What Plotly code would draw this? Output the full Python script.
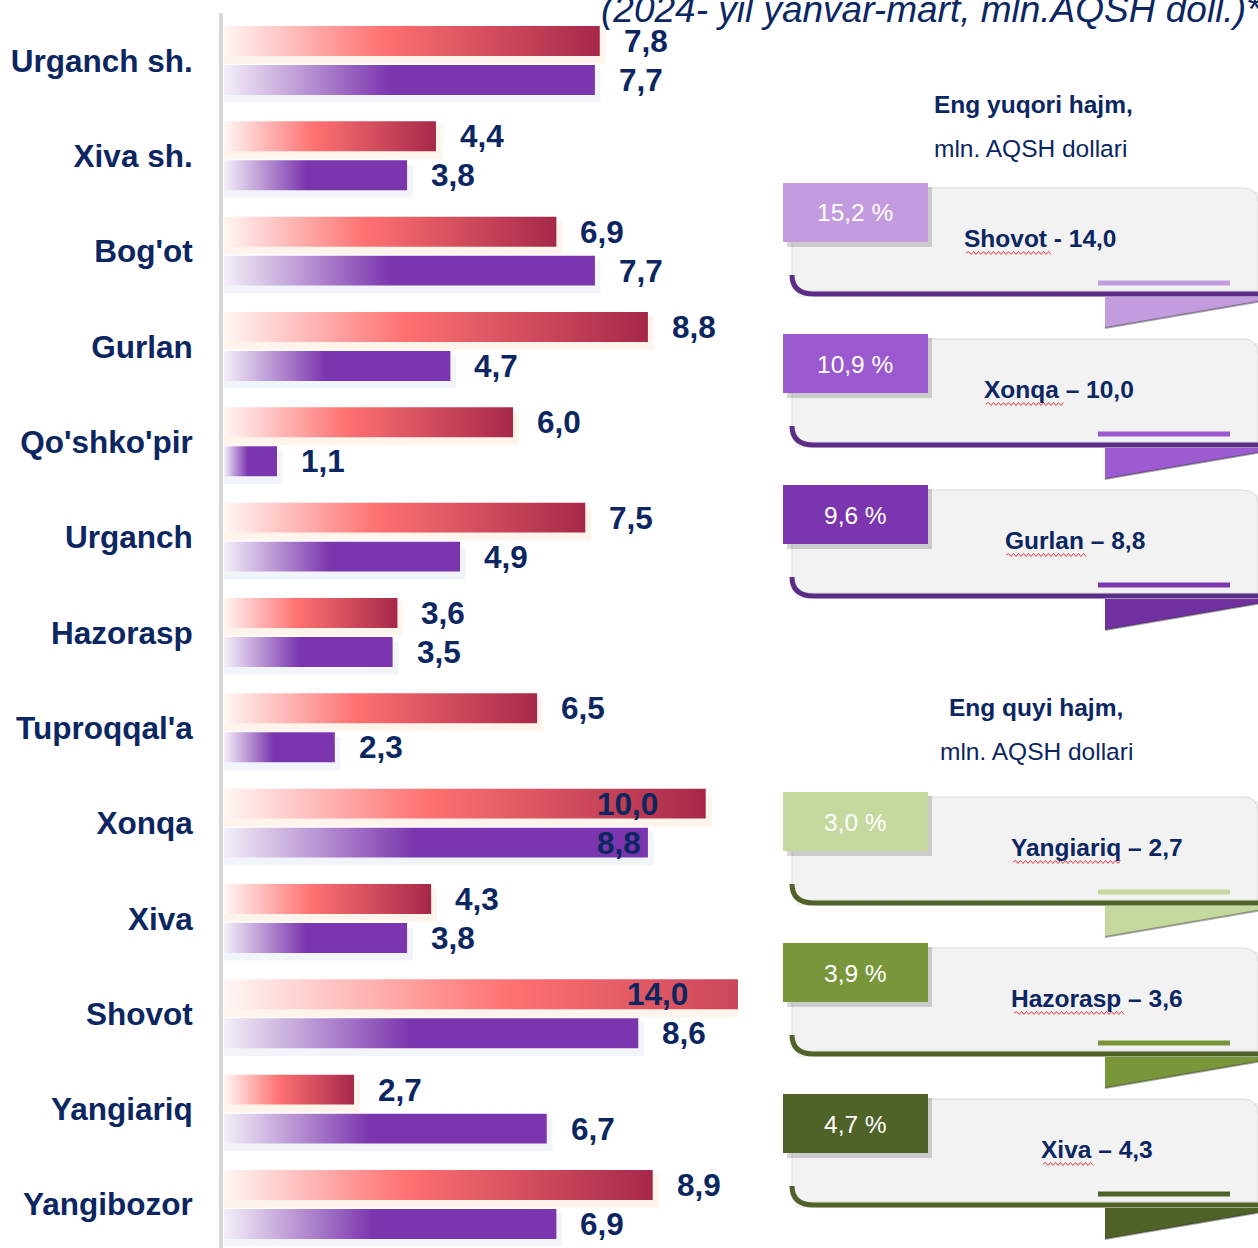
import plotly.graph_objects as go

# ---------------- data ----------------
categories = ["Urganch sh.", "Xiva sh.", "Bog'ot", "Gurlan", "Qo'shko'pir", "Urganch",
              "Hazorasp", "Tuproqqal'a", "Xonqa", "Xiva", "Shovot", "Yangiariq", "Yangibozor"]
values_red = [7.8, 4.4, 6.9, 8.8, 6.0, 7.5, 3.6, 6.5, 10.0, 4.3, 14.0, 2.7, 8.9]
values_purple = [7.7, 3.8, 7.7, 4.7, 1.1, 4.9, 3.5, 2.3, 8.8, 3.8, 8.6, 6.7, 6.9]

subtitle = "(2024- yil yanvar-mart, mln.AQSH doll.)*"

top_header = ["Eng yuqori hajm,", "mln. AQSH dollari"]
top_pct = ["15,2 %", "10,9 %", "9,6 %"]
top_names = ["Shovot - 14,0", "Xonqa – 10,0", "Gurlan – 8,8"]

low_header = ["Eng quyi hajm,", "mln. AQSH dollari"]
low_pct = ["3,0 %", "3,9 %", "4,7 %"]
low_names = ["Yangiariq – 2,7", "Hazorasp – 3,6", "Xiva – 4,3"]

# ---------------- styling / layout constants ----------------
W, H = 1258, 1248
PLOT_L, PLOT_R, PLOT_T = 224, 738, 13
X_MAX = 10.67
ROW0_PX, PITCH = 60.5, 95.33
OFF = 0.2045      # offset of each bar from the row centre
HALF = 0.157      # half bar thickness
NAVY = "#0B2660"
ARIAL = "Liberation Sans, Arial, sans-serif"
CARD_SIZE = 24.5

RED_SCALE = [[0, "#FFF6F4"], [0.42, "#FF7272"], [1, "#A62849"]]
PUR_SCALE = [[0, "#F4EFF8"], [0.45, "#7B35AE"], [1, "#7B35AE"]]

red_shift = [22] * len(categories)
purple_shift = [22] * len(categories)
red_shift[8] = -111
red_shift[10] = -113
purple_shift[8] = -53

n = len(categories)
y_top = -(ROW0_PX - PLOT_T) / PITCH
y_bot = (n - 1) + (H - (ROW0_PX + (n - 1) * PITCH)) / PITCH


def fmt(v):
    return f"{v:.1f}".replace(".", ",")


fig = go.Figure()


def add_poly(x, y, **kw):
    fig.add_trace(go.Scatter(x=x, y=y, mode="lines", fill="toself", line=dict(width=0),
                             hoverinfo="skip", showlegend=False, **kw))


def rect_xy(x1, c, dx=0.0, dy0=0.0, dy1=0.0):
    return ([0, x1 + dx, x1 + dx, 0, 0],
            [c - HALF + dy0, c - HALF + dy0, c + HALF + dy1, c + HALF + dy1, c - HALF + dy0])


# soft shadows
for i, v in enumerate(values_red):
    x, y = rect_xy(v, i - OFF, dx=0.12, dy0=0.05, dy1=0.08)
    add_poly(x, y, fillcolor="rgba(250,205,165,0.22)")
for i, v in enumerate(values_purple):
    x, y = rect_xy(v, i + OFF, dx=0.12, dy0=0.05, dy1=0.08)
    add_poly(x, y, fillcolor="rgba(215,225,242,0.35)")

# gradient bars
for i, v in enumerate(values_red):
    x, y = rect_xy(v, i - OFF)
    add_poly(x, y, fillgradient=dict(type="horizontal", colorscale=RED_SCALE))
for i, v in enumerate(values_purple):
    x, y = rect_xy(v, i + OFF)
    add_poly(x, y, fillgradient=dict(type="horizontal", colorscale=PUR_SCALE))

annotations = []
for i, v in enumerate(values_red):
    annotations.append(dict(x=min(v, X_MAX), y=i - OFF, xref="x", yref="y", text=f"<b>{fmt(v)}</b>",
                            showarrow=False, xanchor="left", yanchor="middle", xshift=red_shift[i],
                            font=dict(family=ARIAL, size=31.5, color=NAVY)))
for i, v in enumerate(values_purple):
    annotations.append(dict(x=min(v, X_MAX), y=i + OFF, xref="x", yref="y", text=f"<b>{fmt(v)}</b>",
                            showarrow=False, xanchor="left", yanchor="middle", xshift=purple_shift[i],
                            font=dict(family=ARIAL, size=31.5, color=NAVY)))


# ---------- helpers for pixel-positioned decoration ----------
def px(x):
    return x / W


def py(y):
    return 1 - y / H


def pth(s):
    out, coords = [], []
    for t in s.replace(",", " ").split():
        if t.isalpha():
            out.append(t)
        else:
            coords.append(float(t))
            if len(coords) == 2:
                out.append(f"{px(coords[0]):.5f},{py(coords[1]):.5f}")
                coords = []
    return " ".join(out)


shapes = []


def add_path(s, fill=None, line_color=None, width=0):
    d = dict(type="path", path=pth(s), xref="paper", yref="paper", layer="above",
             line=dict(width=width, color=line_color or "rgba(0,0,0,0)"))
    if fill:
        d["fillcolor"] = fill
    shapes.append(d)


def text_px(x, y, text, size, color, family=ARIAL, xanchor="center"):
    annotations.append(dict(x=px(x), y=py(y), xref="paper", yref="paper", text=text, showarrow=False,
                            xanchor=xanchor, yanchor="middle", font=dict(family=family, size=size, color=color)))


def wave(x0, x1, y):
    s = f"M {x0} {y}"
    x, up = x0, True
    while x < x1:
        x += 2.5
        s += f" L {x} {y - 1.5 if up else y + 1.5}"
        up = not up
    add_path(s, line_color="#E8383D", width=1)


# axis line
shapes.append(dict(type="line", xref="paper", yref="paper", x0=px(221), x1=px(221), y0=py(13), y1=py(H),
                   line=dict(color="#D9D9D9", width=4), layer="above"))


def card(t, tab_col, dark_col, small_col, fold_col, pct, name, name_x, wave_x0, wave_x1):
    # faint body shadow
    add_path(f"M 796 {t+9} L 1262 {t+9} L 1262 {t+114} L 796 {t+114} Z", fill="rgba(0,0,0,0.05)")
    add_path(f"M 792 {t+5} L 1243 {t+5} Q 1258 {t+5} 1258 {t+20} L 1258 {t+108} L 808 {t+108} "
             f"Q 792 {t+108} 792 {t+92} Z", fill="#F2F2F2", line_color="#DADADA", width=1)
    add_path(f"M 792 {t+92} Q 792 {t+111} 814 {t+111} L 1262 {t+111}", line_color=dark_col, width=5)
    add_path(f"M 1098 {t+100} L 1230 {t+100}", line_color=small_col, width=5)
    add_path(f"M 1105 {t+114} L 1262 {t+114} L 1262 {t+118} L 1105 {t+145} Z", fill=fold_col)
    add_path(f"M 1105 {t+145} L 1262 {t+118}", line_color="rgba(60,60,60,0.45)", width=2)
    add_path(f"M 787 {t+4} L 932 {t+4} L 932 {t+64} L 787 {t+64} Z", fill="rgba(0,0,0,0.16)")
    add_path(f"M 783 {t} L 928 {t} L 928 {t+59} L 783 {t+59} Z", fill=tab_col)
    text_px(855, t + 30, pct, CARD_SIZE, "white")
    text_px(name_x, t + 55, f"<b>{name}</b>", CARD_SIZE, NAVY)
    wave(wave_x0, wave_x1, t + 70)


# top group
text_px(1033, 104, f"<b>{top_header[0]}</b>", CARD_SIZE, NAVY)
text_px(1030, 148, top_header[1], CARD_SIZE, NAVY)
top_tops = [183, 334, 485]
top_tab = ["#C39BDF", "#9B59D0", "#7B35AE"]
top_fold = ["#C39BDF", "#9D5BD2", "#7030A0"]
top_x = [1040, 1059, 1075]
top_wave = [(966, 1050), (986, 1062), (1006, 1085)]
for k in range(3):
    card(top_tops[k], top_tab[k], "#5C2D86", top_tab[k], top_fold[k], top_pct[k], top_names[k],
         top_x[k], *top_wave[k])

# bottom group
text_px(1036, 707, f"<b>{low_header[0]}</b>", CARD_SIZE, NAVY)
text_px(1036, 751, low_header[1], CARD_SIZE, NAVY)
low_tops = [792, 943, 1094]
low_tab = ["#C5D89E", "#7A963B", "#4F6228"]
low_x = [1097, 1097, 1097]
low_wave = [(1013, 1120), (1014, 1122), (1043, 1093)]
for k in range(3):
    card(low_tops[k], low_tab[k], "#4F6228", low_tab[k], low_tab[k], low_pct[k], low_names[k],
         low_x[k], *low_wave[k])

# subtitle (cut at the top edge like the original)
text_px(1264, 10, f"<i>{subtitle}</i>", 37, NAVY, xanchor="right")

fig.update_layout(
    template="none",
    width=W, height=H, autosize=False,
    margin=dict(l=0, r=0, t=0, b=0, pad=0),
    paper_bgcolor="white", plot_bgcolor="white",
    showlegend=False,
    xaxis=dict(domain=[PLOT_L / W, PLOT_R / W], range=[0, X_MAX], showgrid=False, zeroline=False,
               showticklabels=False, showline=False, ticks="", automargin=False, fixedrange=True),
    yaxis=dict(domain=[0, 1 - PLOT_T / H], range=[y_bot, y_top], showgrid=False, zeroline=False,
               showline=False, tickvals=list(range(n)), ticktext=[f"<b>{c}</b>" for c in categories],
               tickfont=dict(family=ARIAL, size=31.5, color=NAVY), ticks="outside", ticklen=24,
               tickcolor="rgba(0,0,0,0)", automargin=False, fixedrange=True),
    shapes=shapes,
    annotations=annotations,
)

fig.write_html("out.html", config={"displayModeBar": False, "staticPlot": True})
with open("out.html", encoding="utf-8") as f:
    html = f.read()
html = html.replace("<body>", '<body style="margin:0;padding:0;overflow:hidden">', 1)
with open("out.html", "w", encoding="utf-8") as f:
    f.write(html)
